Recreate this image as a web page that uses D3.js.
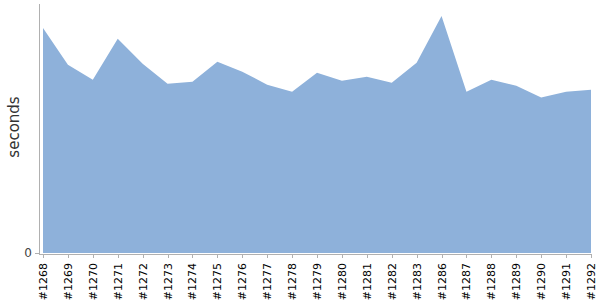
<!DOCTYPE html>
<html>
<head>
<meta charset="utf-8">
<script src="https://cdn.jsdelivr.net/npm/d3@7"></script>
<style>
  body { margin: 0; background: #fff; }
  text { font-family: "DejaVu Sans", sans-serif; }
</style>
</head>
<body>
<div id="chart"></div>
<script>
var builds = ["#1268","#1269","#1270","#1271","#1272","#1273","#1274","#1275","#1276","#1277",
              "#1278","#1279","#1280","#1281","#1282","#1283","#1286","#1287","#1288","#1289",
              "#1290","#1291","#1292"];
var seconds = [226,189,174,215,190,170,172,192,182,169,
               162,181,173,177,171,191,238,162,174,168,
               156,162,164];
var yTicks = [0];

var w = 600, h = 300;
var svg = d3.select("#chart").append("svg")
  .attr("width", w).attr("height", h);

var x = d3.scalePoint().domain(builds).range([43, 591]);
var y = d3.scaleLinear().domain([0, 250]).range([253, 4]);

var data = builds.map(function(b, i){ return {b: b, v: seconds[i]}; });

svg.append("path")
  .datum(data)
  .attr("fill", "#8eb1da")
  .attr("d", d3.area()
    .x(function(d){ return x(d.b); })
    .y0(y(0))
    .y1(function(d){ return y(d.v); }));

// y axis
svg.append("line")
  .attr("x1", 39.5).attr("x2", 39.5)
  .attr("y1", 4).attr("y2", 255)
  .attr("stroke", "#b0b0b0");
svg.selectAll(".ytick").data(yTicks).enter().append("line")
  .attr("x1", 35).attr("x2", 39)
  .attr("y1", function(d){ return y(d) + 0.5; })
  .attr("y2", function(d){ return y(d) + 0.5; })
  .attr("stroke", "#b0b0b0");
svg.selectAll(".ylab").data(yTicks).enter().append("text")
  .attr("x", 32).attr("y", function(d){ return y(d); })
  .attr("dy", "0.35em")
  .attr("text-anchor", "end")
  .attr("fill", "#444")
  .style("font-size", "12px")
  .text(function(d){ return d; });

svg.append("text")
  .attr("transform", "translate(19," + 127 + ") rotate(-90)")
  .attr("text-anchor", "middle")
  .attr("fill", "#333")
  .style("font-size", "15px")
  .text("seconds");

// x axis
svg.append("line")
  .attr("x1", 39).attr("x2", 591.5)
  .attr("y1", 254.5).attr("y2", 254.5)
  .attr("stroke", "#b0b0b0");
svg.selectAll(".xtick").data(builds).enter().append("line")
  .attr("x1", function(d){ return Math.round(x(d)) + 0.5; })
  .attr("x2", function(d){ return Math.round(x(d)) + 0.5; })
  .attr("y1", 254).attr("y2", 258)
  .attr("stroke", "#b0b0b0");
svg.selectAll(".xlab").data(builds).enter().append("text")
  .attr("transform", function(d){ return "translate(" + (x(d) + 4) + ",263) rotate(-90)"; })
  .attr("text-anchor", "end")
  .attr("fill", "#000")
  .style("font-size", "11px")
  .text(function(d){ return d; });
</script>
</body>
</html>
